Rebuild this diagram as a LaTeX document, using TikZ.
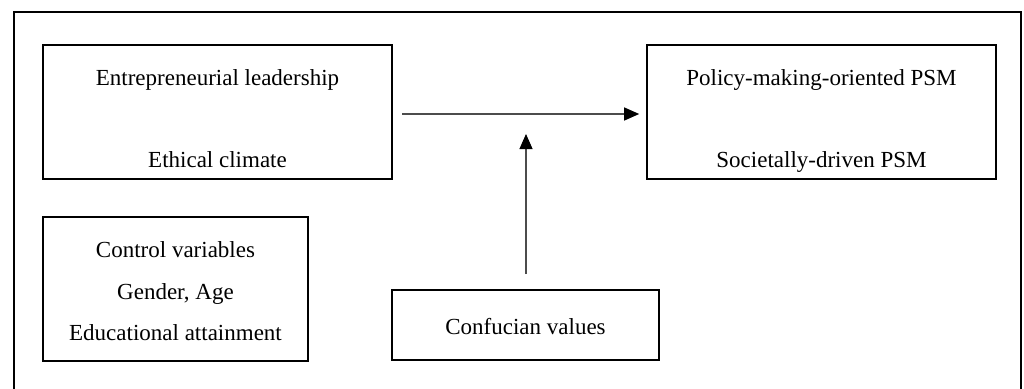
\documentclass[tikz,border=0pt]{standalone}
\usepackage{fontspec}
\setmainfont{Liberation Serif}
\usetikzlibrary{arrows.meta}
\begin{document}
\begin{tikzpicture}[x=1pt,y=-1pt,
  box/.style={draw=black,line width=1.6pt,inner sep=0pt},
  lbl/.style={inner sep=0pt,font=\fontsize{23}{27}\selectfont,anchor=base},
  conn/.style={draw=black!70,line width=1.1pt,-{Triangle[length=15pt,width=13pt,fill=black,color=black]}}]
\useasboundingbox (0,0) rectangle (1024,388);
\fill[white] (0,0) rectangle (1024,388);
% outer frame (open at bottom)
\draw[line width=1.6pt] (14,400) -- (14,12) -- (1021,12) -- (1021,400);
% boxes
\node[box,minimum width=349pt,minimum height=134pt] (el) at (217.5,112) {};
\node[box,minimum width=349pt,minimum height=134pt] (psm) at (821.5,112) {};
\node[box,minimum width=265pt,minimum height=144pt] (ctrl) at (175.5,289) {};
\node[box,minimum width=267pt,minimum height=70pt] (conf) at (525.5,325) {};
% texts
\node[lbl] (t1) at (217.5,85) {Entrepreneurial leadership};
\node[lbl] (t2) at (217.5,167) {Ethical climate};
\node[lbl] (t3) at (821.5,85) {Policy-making-oriented PSM};
\node[lbl] (t4) at (821.5,167) {Societally-driven PSM};
\node[lbl] (t5) at (175.5,257) {Control variables};
\node[lbl] (t6) at (175.5,299) {Gender, Age};
\node[lbl] (t7) at (175.5,340) {Educational attainment};
\node[lbl] (t8) at (525.5,334) {Confucian values};
% connectors
\coordinate (hs) at (402,114);
\coordinate (vt) at (526,134);
\draw[conn,shorten >=7pt] (hs) -- (hs -| psm.west);
\draw[conn,shorten <=15pt] (conf.north -| vt) -- (vt);
\end{tikzpicture}
\end{document}
